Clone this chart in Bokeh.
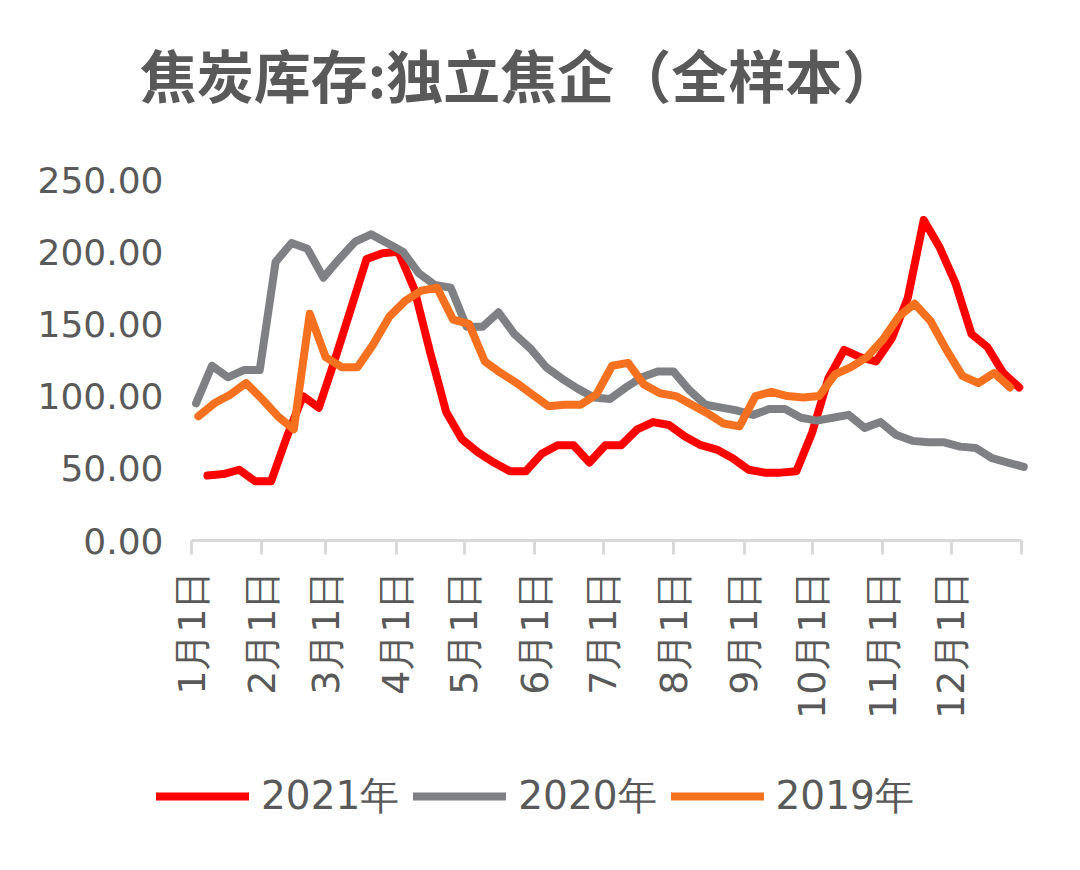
import numpy as np
import pandas as pd
from bokeh.plotting import figure
from bokeh.models import (Range1d, FixedTicker, NumeralTickFormatter, Legend, LegendItem, Label)
from bokeh.embed import file_html
from bokeh.resources import INLINE

# ---------------- data ----------------
title_text = "焦炭库存:独立焦企（全样本）"
month_labels = ["1月1日", "2月1日", "3月1日", "4月1日", "5月1日", "6月1日",
                "7月1日", "8月1日", "9月1日", "10月1日", "11月1日", "12月1日"]
series_names = ["2021年", "2020年", "2019年"]
y_ticks = [0, 50, 100, 150, 200, 250]

start_2021 = "2021-01-08"
start_2020 = "2020-01-03"
start_2019 = "2019-01-04"

v2021 = [45, 46, 49, 41, 41, 72, 100, 92, 125, 160,
         195, 199, 200, 174, 130, 89, 70, 61, 54, 48,
         48, 60, 66, 66, 54, 66, 66, 77, 82, 80,
         72, 66, 63, 57, 49, 47, 47, 48, 75, 112,
         132, 127, 124, 140, 168, 222, 203, 178, 143, 134,
         116, 106]

v2020 = [95, 121, 113, 118, 118, 193, 206, 202, 182, 195,
         207, 212, 206, 200, 185, 177, 175, 148, 148, 158,
         143, 133, 120, 112, 105, 99, 98, 106, 113, 117,
         117, 104, 94, 92, 90, 87, 91, 91, 85, 83,
         85, 87, 78, 82, 73, 69, 68, 68, 65, 64,
         57, 54, 51]

v2019 = [86, 95, 101, 109, 98, 86, 77, 157, 127, 120,
         120, 136, 155, 166, 173, 175, 153, 150, 124, 116,
         109, 101, 93, 94, 94, 101, 121, 123, 108, 102,
         100, 94, 88, 81, 79, 100, 103, 100, 99, 100,
         115, 120, 127, 139, 155, 164, 152, 132, 114, 109,
         116, 106]

colors = ["#FF0000", "#7F8083", "#F5711F"]


def day_offsets(start, n):
    d = pd.date_range(start, periods=n, freq="7D")
    y0 = pd.Timestamp(f"{d[0].year}-01-01")
    return [(x - y0).days for x in d]


x2021 = day_offsets(start_2021, len(v2021))
x2020 = day_offsets(start_2020, len(v2020))
x2019 = day_offsets(start_2019, len(v2019))

month_starts = [(m - pd.Timestamp("2021-01-01")).days
                for m in pd.date_range("2021-01-01", periods=12, freq="MS")]
year_end = 365
y_max = 250

# ---------------- layout (pixels) ----------------
W, H = 1064, 854
plot_left, plot_right = 191, 1021     # where day 0 / day 365 fall
plot_top, plot_bottom = 179, 540      # where 250 / 0 fall
kx = (plot_right - plot_left) / year_end
ky = (plot_bottom - plot_top) / y_max
x_range = Range1d(-plot_left / kx, year_end + (W - plot_right) / kx)
y_range = Range1d(-(H - plot_bottom) / ky, y_max + plot_top / ky)

p = figure(width=W, height=H, output_backend="svg", toolbar_location=None,
           x_range=x_range, y_range=y_range, min_border=0)
p.outline_line_color = None
p.background_fill_color = "white"
p.border_fill_color = "white"
p.xgrid.grid_line_color = None
p.ygrid.grid_line_color = None

# lines (Excel order: 2021 bottom, 2019 top)
renderers = []
for xs, ys, c in [(x2021, v2021, colors[0]), (x2020, v2020, colors[1]), (x2019, v2019, colors[2])]:
    r = p.line(xs, ys, line_color=c, line_width=8, line_join="round", line_cap="round")
    renderers.append(r)

# y axis
yax = p.yaxis[0]
yax.fixed_location = 0
yax.bounds = (0, y_max)
yax.ticker = FixedTicker(ticks=y_ticks)
yax.formatter = NumeralTickFormatter(format="0.00")
yax.axis_line_color = None
yax.major_tick_line_color = None
yax.minor_tick_line_color = None
yax.major_label_standoff = 22
yax.major_label_text_font = "DejaVu Sans"
yax.major_label_text_font_size = "36px"
yax.major_label_text_color = "#595959"

# x axis
xax = p.xaxis[0]
xax.fixed_location = 0
xax.bounds = (0, year_end)
xax.ticker = FixedTicker(ticks=month_starts + [year_end])
overrides = {d: lab for d, lab in zip(month_starts, month_labels)}
overrides[year_end] = ""
xax.major_label_overrides = overrides
xax.major_label_orientation = np.pi / 2
xax.axis_line_color = "#D9D9D9"
xax.axis_line_width = 3
xax.major_tick_line_color = "#D9D9D9"
xax.major_tick_line_width = 3
xax.major_tick_out = 14
xax.major_tick_in = 0
xax.minor_tick_line_color = None
xax.major_label_standoff = 16
xax.major_label_text_font = "DejaVu Sans"
xax.major_label_text_font_size = "38px"
xax.major_label_text_color = "#595959"

# title
p.add_layout(Label(x=519, y=H - 72, x_units="screen", y_units="screen",
                   text=title_text, text_font="Noto Sans CJK SC",
                   text_font_size="57px", text_font_style="bold",
                   text_color="#595959", text_align="center", text_baseline="middle"))

# legend
legend = Legend(items=[LegendItem(label=n, renderers=[r]) for n, r in zip(series_names, renderers)],
                orientation="horizontal", location=(156, 31))
legend.border_line_color = None
legend.background_fill_alpha = 0
legend.glyph_width = 93
legend.glyph_height = 40
legend.label_height = 40
legend.label_standoff = 12
legend.spacing = 14
legend.padding = 0
legend.margin = 0
legend.label_text_font = "DejaVu Sans"
legend.label_text_font_size = "39px"
legend.label_text_color = "#595959"
p.add_layout(legend)

open("out.html", "w").write(file_html(p, INLINE))
